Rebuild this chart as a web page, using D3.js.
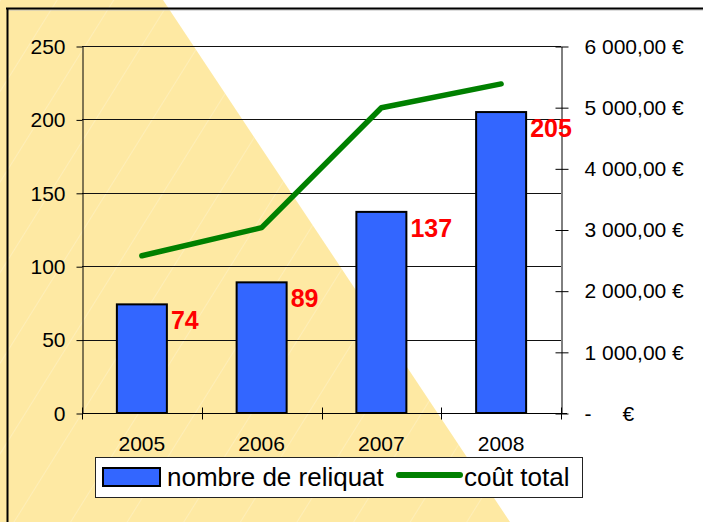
<!DOCTYPE html>
<html>
<head>
<meta charset="utf-8">
<script src="https://cdn.jsdelivr.net/npm/d3@7"></script>
<style>
  body { margin: 0; background: #fff; }
  svg { display: block; }
  text { font-family: Arial, "Liberation Sans", sans-serif; }
</style>
</head>
<body>
<svg width="703" height="522"></svg>
<script>
// chart values
var years = ["2005", "2006", "2007", "2008"];
var reliquats = [74, 89, 137, 205];
var couts = [2570, 3030, 4990, 5380];
var leftTicks = [0, 50, 100, 150, 200, 250];
var rightTicks = [0, 1000, 2000, 3000, 4000, 5000, 6000];
var legendLabels = ["nombre de reliquat", "coût total"];

var svg = d3.select("svg");

// plot box
var plot = { left: 82, right: 561, top: 46, bottom: 413 };
var axisFont = 21;

var x = d3.scaleBand().domain(years).range([plot.left, plot.right]).padding(0);
var yL = d3.scaleLinear().domain([0, 250]).range([plot.bottom, plot.top]);
var yR = d3.scaleLinear().domain([0, 6000]).range([plot.bottom, plot.top]);

var fr = d3.formatLocale({ decimal: ",", thousands: "\u00a0", grouping: [3], currency: ["", "\u00a0€"] });
var euro = fr.format("$,.2f");

/** background : white slide with the yellow triangle and its faint hatching **/
var defs = svg.append("defs");
var pat = defs.append("pattern")
    .attr("id", "hatch")
    .attr("patternUnits", "userSpaceOnUse")
    .attr("width", 48).attr("height", 48)
    .attr("patternTransform", "rotate(32)");
pat.append("line")
    .attr("x1", 0).attr("y1", 0).attr("x2", 0).attr("y2", 48)
    .attr("stroke", "#fff").attr("stroke-opacity", 0.45).attr("stroke-width", 1);

svg.append("rect").attr("width", 703).attr("height", 522).attr("fill", "#fff");
var tri = "M0,0 L163,0 L510,522 L0,522 Z";
svg.append("path").attr("d", tri).attr("fill", "#FEE9A3");
svg.append("path").attr("d", tri).attr("fill", "url(#hatch)");

// chart frame (runs out of the picture right and bottom)
svg.append("line").attr("x1", 7).attr("x2", 703).attr("y1", 10).attr("y2", 10)
    .attr("stroke", "#bbb").attr("stroke-width", 1);
svg.append("line").attr("x1", 6).attr("x2", 703).attr("y1", 8.5).attr("y2", 8.5)
    .attr("stroke", "#000").attr("stroke-width", 2);
svg.append("line").attr("x1", 7.5).attr("x2", 7.5).attr("y1", 8).attr("y2", 522)
    .attr("stroke", "#000").attr("stroke-width", 2);

/** gridlines **/
svg.append("g")
    .selectAll("line")
    .data(leftTicks.filter(function(d){ return d > 0; }))
    .enter().append("line")
        .attr("x1", plot.left).attr("x2", plot.right)
        .attr("y1", function(d){ return Math.round(yL(d)) + 0.5; })
        .attr("y2", function(d){ return Math.round(yL(d)) + 0.5; })
        .attr("stroke", "#111").attr("stroke-width", 1);

/** left axis **/
var gL = svg.append("g")
    .attr("transform", "translate(" + (plot.left + 0.5) + ",0.5)")
    .call(d3.axisLeft(yL).tickValues(leftTicks).tickSize(6).tickSizeOuter(0).tickPadding(11));
gL.select(".domain").attr("stroke", "#000");
gL.selectAll("text").attr("font-size", axisFont).attr("fill", "#000")
    .style("font-family", "Arial, 'Liberation Sans', sans-serif");

/** right axis **/
var gR = svg.append("g")
    .attr("transform", "translate(" + (plot.right + 0.5) + ",0.5)")
    .call(d3.axisRight(yR).tickValues(rightTicks).tickSize(7).tickSizeOuter(0).tickPadding(16)
        .tickFormat(function(d){ return d === 0 ? "-" : euro(d); }));
gR.selectAll(".tick line").attr("x1", -6);
gR.selectAll("text").attr("font-size", axisFont).attr("fill", "#000")
    .style("font-family", "Arial, 'Liberation Sans', sans-serif");
gR.selectAll(".tick").filter(function(d){ return d === 0; })
    .select("text").append("tspan").attr("x", 61).text("€");

/** x axis: ticks on band boundaries, labels centred **/
var gX = svg.append("g")
    .attr("transform", "translate(0," + (plot.bottom + 0.5) + ")");
gX.append("line").attr("x1", plot.left).attr("x2", plot.right + 6)
    .attr("stroke", "#000");
gX.selectAll("line.bound")
    .data(years.map(function(d){ return x(d); }).concat([x.range()[1]]))
    .enter().append("line")
        .attr("class", "bound")
        .attr("x1", function(d){ return Math.round(d) + 0.5; })
        .attr("x2", function(d){ return Math.round(d) + 0.5; })
        .attr("y1", -6).attr("y2", 6)
        .attr("stroke", "#000");
var gXl = gX.append("g").call(d3.axisBottom(x).tickSize(0).tickPadding(23));
gXl.select(".domain").remove();
gXl.selectAll("text").attr("font-size", axisFont).attr("fill", "#000")
    .style("font-family", "Arial, 'Liberation Sans', sans-serif");

/** bars **/
var barW = 50;
svg.append("g")
    .selectAll("rect")
    .data(reliquats)
    .enter().append("rect")
        .attr("x", function(d, i){ return x(years[i]) + (x.bandwidth() - barW) / 2; })
        .attr("y", function(d){ return yL(d); })
        .attr("width", barW)
        .attr("height", function(d){ return yL(0) - yL(d); })
        .attr("fill", "#3366FF")
        .attr("stroke", "#000").attr("stroke-width", 2);

/** cost line **/
var line = d3.line()
    .x(function(d, i){ return x(years[i]) + x.bandwidth() / 2; })
    .y(function(d){ return yR(d); });
svg.append("path")
    .datum(couts)
    .attr("d", line)
    .attr("fill", "none")
    .attr("stroke", "#008000")
    .attr("stroke-width", 5.5)
    .attr("stroke-linejoin", "round")
    .attr("stroke-linecap", "round");

/** value labels **/
svg.append("g")
    .selectAll("text")
    .data(reliquats)
    .enter().append("text")
        .attr("x", function(d, i){ return x(years[i]) + (x.bandwidth() + barW) / 2 + 4; })
        .attr("y", function(d){ return yL(d) + 25; })
        .attr("font-size", 25)
        .attr("font-weight", "bold")
        .attr("fill", "#FF0000")
        .text(function(d){ return d; });

/** legend **/
var lg = svg.append("g");
lg.append("rect")
    .attr("x", 95.5).attr("y", 457.5).attr("width", 487).attr("height", 40)
    .attr("fill", "#fff").attr("stroke", "#222").attr("stroke-width", 1);
lg.append("rect")
    .attr("x", 103).attr("y", 468).attr("width", 57).attr("height", 18)
    .attr("fill", "#3366FF").attr("stroke", "#000").attr("stroke-width", 2);
lg.append("text").attr("x", 167).attr("y", 486)
    .attr("font-size", 26).attr("fill", "#000").text(legendLabels[0]);
lg.append("line")
    .attr("x1", 399).attr("x2", 460).attr("y1", 475).attr("y2", 475)
    .attr("stroke", "#008000").attr("stroke-width", 6).attr("stroke-linecap", "round");
lg.append("text").attr("x", 464).attr("y", 486)
    .attr("font-size", 26).attr("fill", "#000").text(legendLabels[1]);
</script>
</body>
</html>
